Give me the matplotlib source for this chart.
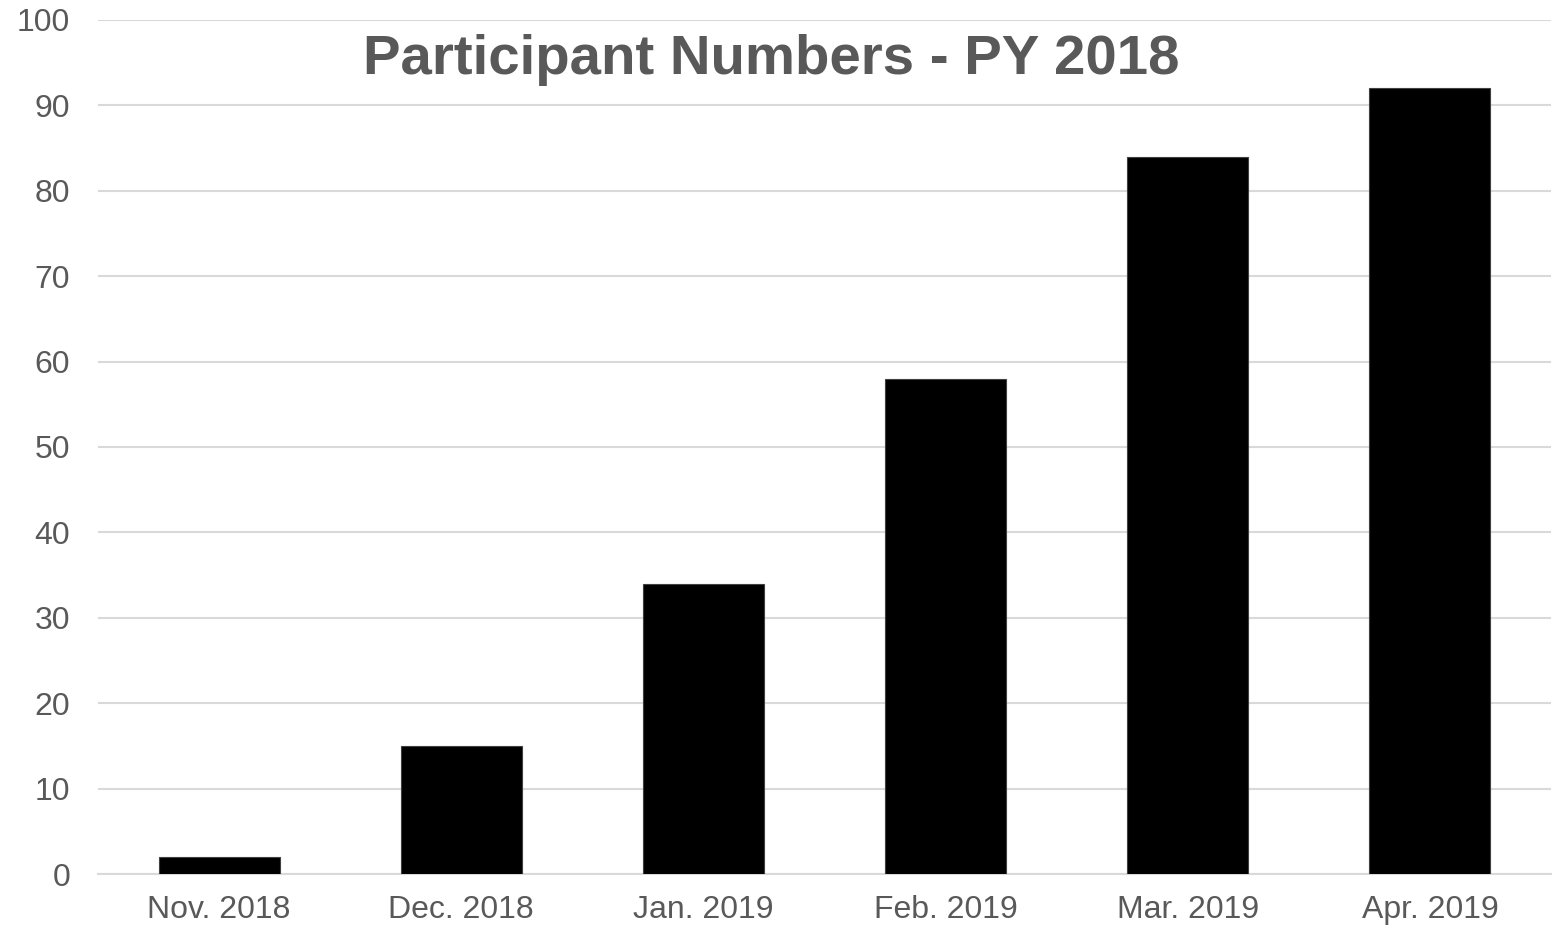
import matplotlib
matplotlib.use("Agg")
import matplotlib.pyplot as plt

categories = ["Nov. 2018", "Dec. 2018", "Jan. 2019", "Feb. 2019", "Mar. 2019", "Apr. 2019"]
values = [2, 15, 34, 58, 84, 92]
yticks = [0, 10, 20, 30, 40, 50, 60, 70, 80, 90, 100]
title = "Participant Numbers - PY 2018"

plt.rcParams['font.family'] = ['Liberation Sans', 'DejaVu Sans']

fig = plt.figure(figsize=(15.66, 9.34), dpi=100)
ax = fig.add_axes([98/1566, 60/934, (1551-98)/1566, (874-20)/934])

x = list(range(len(categories)))
ax.bar(x, values, width=0.5, color='black', edgecolor='#404040', linewidth=0.8, zorder=3)

ax.set_xlim(-0.5, len(categories) - 0.5)
ax.set_ylim(0, 100)
ax.set_yticks(yticks)
ax.set_xticks(x)
ax.set_xticklabels(categories)
ax.tick_params(axis='both', length=0, labelsize=23, colors='#595959')
ax.tick_params(axis='y', pad=20)
ax.tick_params(axis='x', pad=15)
ax.grid(axis='y', color='#d9d9d9', linewidth=1.5, zorder=0)
for s in ['top', 'right', 'left']:
    ax.spines[s].set_visible(False)
ax.spines['bottom'].set_color('#d9d9d9')
ax.spines['bottom'].set_linewidth(1.5)

fig.text(771/1566, 1 - 60/934, title, ha='center', va='center',
         fontsize=40.6, fontweight='bold', color='#595959')

fig.savefig("out.png", dpi=100)
